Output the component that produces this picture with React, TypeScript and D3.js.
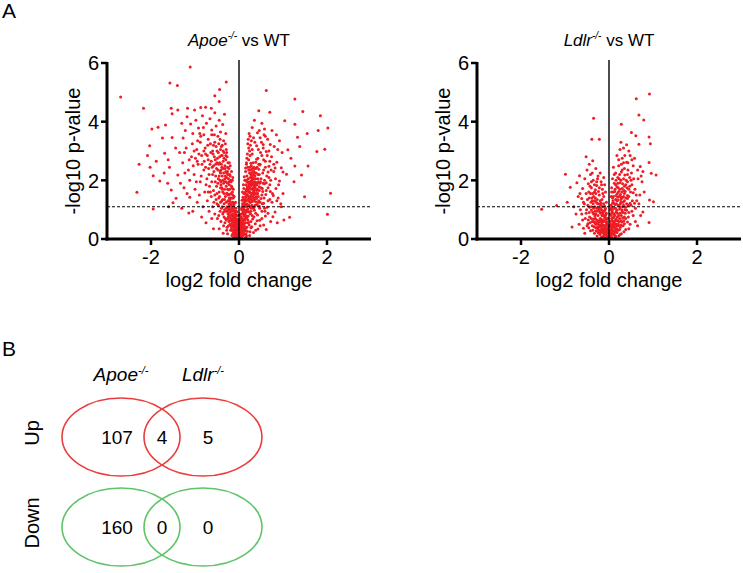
import React from "react";
import * as d3 from "d3";

// volcano points: [log2 fold change, -log10 p-value]
const apoePoints: [number, number][] = [
  [-2.69,4.84],[-2.17,4.46],[-1.11,5.86],[-1.57,5.32],[-1.40,5.23],[-0.29,5.35],[-0.44,5.10],[-0.55,4.88],[-0.45,4.69],[-1.54,4.46],
  [-1.52,4.27],[-1.39,4.40],[-1.17,4.46],[-1.01,4.40],[-0.87,4.48],[-0.76,4.49],[-0.63,4.46],[-1.98,3.75],[-1.84,3.81],[-1.67,3.89],
  [-1.74,3.44],[-2.03,3.18],[-1.52,3.46],[-1.27,3.44],[-1.18,4.17],[-2.27,2.55],[-2.02,2.45],[-1.95,2.16],[-1.80,1.98],[-2.32,1.59],
  [-1.95,1.02],[-1.61,2.70],[-1.69,2.92],[-1.54,1.67],[-1.50,1.24],[-1.43,1.39],[-1.14,0.89],[-1.12,1.42],[-1.39,2.18],
  [-1.30,3.95],[-1.22,3.70],[-1.10,3.92],[-1.05,3.60],[-0.98,4.05],[-0.92,3.78],[-0.88,3.30],[-0.83,4.20],[-0.80,3.55],[-0.74,3.95],
  [-0.70,3.40],[-0.66,4.10],[-0.62,3.72],[-0.58,3.20],[-0.55,4.30],[-0.52,3.85],[-0.48,3.50],[-0.45,4.05],[-0.42,3.65],[-0.40,3.15],
  [-0.37,3.90],[-0.35,3.35],[-0.33,4.25],[-0.30,3.60],[-0.28,2.95],
  [-1.35,2.95],[-1.28,2.60],[-1.20,3.10],[-1.15,2.35],[-1.08,2.80],[-1.02,2.20],[-0.96,3.05],[-0.93,2.55],[-0.88,1.95],[-0.85,2.85],
  [-0.80,2.35],[-0.77,3.10],[-0.73,2.05],[-0.70,2.70],[-0.67,1.80],[-0.64,2.95],[-0.61,2.45],[-0.58,1.65],[-0.56,2.80],[-0.53,2.15],
  [-0.50,3.00],[-0.48,1.90],[-0.46,2.55],[-0.44,1.45],[-0.42,2.25],[-0.40,2.85],[-0.38,1.70],[-0.36,2.40],[-0.34,1.20],[-0.32,2.05],
  [-0.30,2.70],[-0.28,1.55],[-0.26,2.30],[-0.24,1.00],[-0.22,1.85],[-0.20,2.50],[-0.18,0.80],[-0.16,1.40],[-0.14,2.10],[-0.12,0.55],
  [-1.25,1.75],[-1.18,1.55],[-1.00,1.70],[-0.95,1.25],[-0.90,1.50],[-0.82,1.10],[-0.78,1.60],[-0.72,1.30],[-0.68,0.95],[-0.63,1.45],
  [-0.60,1.10],[-0.55,0.85],[-0.52,1.35],[-0.49,0.70],[-0.47,1.15],[-0.43,0.95],[-0.41,0.60],[-0.39,1.30],[-0.37,0.85],[-0.35,0.45],
  [-0.33,1.00],[-0.31,0.70],[-0.29,1.25],[-0.27,0.40],[-0.25,0.85],[-0.23,0.60],[-0.21,1.15],[-0.19,0.30],[-0.17,0.95],[-0.15,0.45],
  [-0.13,0.20],[-0.11,0.75],[-0.10,0.35],[-0.08,0.15],[-0.07,0.50],[-0.05,0.25],[-0.04,0.08],[-0.03,0.40],[-0.02,0.12],[-0.06,0.05],
  [-0.09,0.62],[-0.12,0.95],[-0.14,1.25],[-0.16,0.65],[-0.18,1.55],[-0.20,0.50],[-0.22,1.40],[-0.24,0.75],[-0.26,1.70],[-0.28,0.95],
  [-0.30,1.95],[-0.32,0.55],[-0.34,1.55],[-0.36,0.90],[-0.38,2.15],[-0.40,1.05],[-0.42,1.75],[-0.44,2.60],[-0.46,0.80],[-0.50,1.55],
  [-0.54,1.95],[-0.57,1.25],[-0.60,2.20],[-0.65,1.60],[-0.69,2.40],[-0.75,1.85],[-0.79,2.65],[-0.86,2.15],[-0.91,2.90],[-0.97,1.95],
  [-1.04,2.50],[-1.12,2.00],[-1.23,2.25],[-1.33,1.90],
  [-0.01,0.05],[-0.03,0.22],[-0.05,0.45],[-0.07,0.30],[-0.09,0.18],[-0.11,0.48],[-0.13,0.62],[-0.15,0.85],[-0.17,0.38],[-0.19,0.72],
  [-0.21,0.90],[-0.23,1.05],[-0.25,1.30],[-0.27,1.10],[-0.29,0.65],[-0.31,1.45],[-0.33,1.70],[-0.35,1.90],[-0.37,1.35],[-0.39,2.45],
  [-0.41,1.95],[-0.43,2.30],[-0.45,1.60],[-0.47,2.05],[-0.49,2.75],[-0.51,1.80],[-0.53,2.55],[-0.55,3.30],[-0.57,2.30],[-0.59,2.90],
  [-0.62,3.55],[-0.66,2.55],[-0.71,3.20],[-0.76,2.90],[-0.81,3.80],[-0.87,3.50],[-0.94,3.35],[-0.99,2.75],[-1.06,3.25],[-1.13,2.70],
  [-1.24,2.95],[-1.44,3.10],[-1.58,2.45],[-1.62,1.90],[-1.70,2.25],[-1.88,2.65],[-2.08,2.85],
  [-1.60,1.10],[-1.30,1.05],[-1.05,0.95],[-0.85,0.75],[-0.75,0.55],[-0.62,0.70],[-0.58,0.35],[-0.45,0.35],[-0.36,0.20],[-0.26,0.18],
  [-0.16,0.12],[-0.10,0.05],
  [0.62,5.06],[1.27,4.77],[1.45,4.35],[1.85,4.20],[2.02,3.78],[1.80,3.70],[1.33,3.47],[1.27,3.91],[1.04,4.03],[0.70,4.32],
  [0.45,4.37],[1.95,3.06],[1.77,2.98],[1.57,2.49],[1.27,2.49],[1.42,2.18],[1.49,1.44],[2.08,1.56],[2.01,0.84],[1.15,0.74],
  [1.02,0.65],[1.08,2.21],[1.11,3.04],[0.96,2.43],[0.89,1.40],[0.77,0.76],
  [0.35,4.05],[0.52,3.95],[0.30,3.80],[0.58,3.75],[0.42,3.62],[0.75,3.70],[0.85,3.55],[0.25,3.50],[0.48,3.45],[0.65,3.40],
  [0.92,3.35],[0.36,3.30],[0.55,3.22],[0.80,3.15],[0.22,3.10],[0.44,3.05],[0.68,3.00],[0.98,2.95],[0.30,2.90],[0.52,2.85],
  [0.74,2.80],[0.18,2.75],[0.40,2.72],[0.60,2.65],[0.86,2.62],[0.27,2.58],[0.47,2.52],[0.68,2.48],[0.15,2.42],[0.35,2.40],
  [0.56,2.35],[0.79,2.30],[1.00,2.28],[0.24,2.25],[0.43,2.20],[0.63,2.15],[0.12,2.12],[0.31,2.08],[0.50,2.05],[0.72,2.00],
  [0.92,1.98],[0.20,1.95],[0.39,1.92],[0.58,1.88],[0.10,1.85],[0.28,1.82],[0.46,1.78],[0.66,1.75],[0.84,1.72],[0.17,1.70],
  [0.35,1.68],[0.54,1.62],[0.08,1.60],[0.25,1.58],[0.42,1.55],[0.61,1.52],[0.78,1.48],[0.15,1.45],[0.32,1.42],[0.50,1.38],
  [0.70,1.35],[0.07,1.32],[0.22,1.30],[0.38,1.27],[0.56,1.22],[0.95,1.20],[0.13,1.18],[0.29,1.15],[0.46,1.12],[0.64,1.08],
  [0.06,1.05],[0.20,1.02],[0.35,0.98],[0.52,0.95],[0.82,0.92],[0.11,0.90],[0.26,0.86],[0.42,0.82],[0.60,0.78],[0.05,0.75],
  [0.17,0.72],[0.31,0.68],[0.47,0.64],[0.09,0.60],[0.22,0.56],[0.37,0.52],[0.56,0.48],[0.04,0.45],[0.14,0.42],[0.27,0.38],
  [0.43,0.34],[0.08,0.30],[0.19,0.26],[0.33,0.22],[0.03,0.18],[0.12,0.15],[0.24,0.12],[0.06,0.08],[0.15,0.05],[0.02,0.03],
  [0.21,1.62],[0.27,1.48],[0.33,1.75],[0.24,1.88],[0.31,1.58],[0.37,1.85],[0.29,2.00],[0.26,1.72],[0.34,1.52],[0.40,1.65],
  [0.19,1.52],[0.23,1.38],[0.30,1.28],[0.36,1.40],[0.44,1.45],[0.18,1.20],[0.26,1.08],[0.33,1.05],[0.41,1.18],[0.48,1.25],
  [0.16,0.98],[0.23,0.92],[0.30,0.80],[0.38,0.88],[0.12,0.78],[0.20,0.66],[0.27,0.60],[0.14,0.55],[0.10,0.45],[0.18,0.40],
  [0.07,0.38],[0.11,0.25],[0.05,0.22],[0.09,0.12],[0.16,0.18],[0.04,0.55],[0.10,0.68],[0.13,0.88],[0.09,1.12],[0.14,1.35],
  [0.11,1.55],[0.19,1.78],[0.16,2.00],[0.22,2.35],[0.28,2.50],[0.38,2.62],[0.33,2.20],[0.45,2.38],[0.49,1.95],[0.53,1.72],
  [0.57,1.40],[0.62,1.92],[0.66,2.28],[0.71,1.62],[0.75,1.25],[0.58,1.05],[0.66,0.88],[0.72,0.60],[0.52,0.70],[0.48,0.45],
  [0.38,0.30],[0.29,0.42],[0.41,0.62],[0.34,0.75],[0.25,0.25],[0.70,2.65],[0.62,2.98],[0.55,3.10],[0.40,3.18],[0.33,3.45],
  [0.46,3.70],[0.60,3.50],[0.71,3.22],[0.88,3.05],[0.82,2.42],[0.90,1.85],[1.00,1.55],[0.96,1.10],[0.87,0.55],[0.62,0.32],
  [1.25,1.95],[1.18,2.75],[1.38,3.15],[1.55,3.60],[0.20,3.25],[0.17,2.55],
];

// the dense V-shaped core near zero fold change
const apoeCore: [number, number][] = [
  [-0.02,0.20],[-0.04,0.30],[-0.06,0.15],[-0.08,0.42],[-0.03,0.55],[-0.10,0.25],[-0.12,0.40],[-0.05,0.68],[-0.07,0.82],[-0.14,0.70],
  [-0.09,0.95],[-0.16,1.05],[-0.11,1.20],[-0.18,1.12],[-0.13,1.40],[-0.20,1.28],[-0.15,1.60],[-0.22,1.52],[-0.17,1.80],[-0.24,1.68],
  [-0.19,2.00],[-0.26,1.90],[-0.21,2.20],[-0.28,2.10],[-0.23,2.40],[-0.30,2.30],[-0.25,2.60],[-0.32,2.50],[-0.27,2.80],[-0.34,2.75],
  [-0.29,3.05],[-0.36,3.00],[-0.31,3.25],[-0.38,3.20],[-0.43,3.40],[-0.47,2.95],[-0.51,2.40],[-0.45,2.15],[-0.41,1.85],[-0.37,1.60],
  [-0.33,1.35],[-0.29,1.05],[-0.25,0.95],[-0.21,0.65],[-0.17,0.50],[-0.13,0.30],[-0.01,0.35],[-0.02,0.48],[-0.04,0.62],[-0.06,0.78],
  [-0.08,0.90],[-0.10,1.05],[-0.12,1.15],[-0.14,1.50],[-0.16,1.75],[-0.18,1.95],[-0.20,2.15],[-0.22,2.60],[-0.24,2.05],[-0.26,2.45],
  [-0.28,2.25],[-0.30,2.85],[-0.32,2.40],[-0.34,2.95],[-0.36,2.65],[-0.38,2.85],[-0.40,2.55],[-0.42,3.05],[-0.44,2.80],[-0.46,3.25],
  [-0.48,2.35],[-0.50,2.60],[-0.52,3.15],[-0.54,2.70],[-0.56,3.55],[-0.58,2.50],[-0.60,3.00],[-0.63,2.65],[-0.65,3.25],[-0.68,2.20],
  [-0.72,2.85],[-0.76,2.45],[-0.80,3.00],[-0.84,2.55],[-0.89,3.60],[-0.95,2.65],[-1.02,3.00],[-0.06,0.95],[-0.08,1.25],[-0.11,1.45],
  [-0.13,1.70],[-0.15,2.00],[-0.17,2.30],[-0.19,1.40],[-0.21,1.70],[-0.23,1.95],[-0.25,2.20],[-0.27,1.55],[-0.29,1.80],[-0.31,2.15],
  [-0.33,1.95],[-0.35,2.25],[-0.37,2.00],[-0.39,1.75],[-0.41,2.35],[-0.43,2.00],[-0.12,0.05],[-0.14,0.18],[-0.16,0.30],[-0.18,0.45],
  [-0.20,0.62],[-0.22,0.80],[-0.24,0.45],[-0.26,0.70],[-0.28,0.30],[-0.31,0.95],[-0.34,0.75],[-0.38,1.10],[-0.42,1.25],[-0.46,1.40],
  [-0.50,1.20],[-0.55,1.50],[-0.62,1.95],[-0.70,1.60],
  [0.02,0.15],[0.04,0.28],[0.06,0.40],[0.03,0.52],[0.08,0.62],[0.05,0.85],[0.10,0.95],[0.07,1.10],[0.12,1.25],[0.09,1.42],
  [0.14,1.55],[0.11,1.72],[0.16,1.85],[0.13,2.00],[0.18,2.15],[0.15,2.30],[0.20,2.45],[0.17,2.60],[0.22,2.70],[0.19,2.90],
  [0.24,3.00],[0.21,3.40],[0.26,3.20],[0.23,3.60],[0.28,3.35],[0.25,2.85],[0.30,3.05],[0.27,2.35],[0.32,2.60],[0.29,2.15],
  [0.34,2.45],[0.31,1.95],[0.36,2.25],[0.33,1.65],[0.38,2.05],[0.35,1.35],[0.40,1.90],[0.37,1.15],[0.42,1.70],[0.39,1.45],
  [0.44,1.95],[0.41,2.45],[0.46,2.20],[0.43,2.75],[0.48,2.55],[0.45,1.30],[0.50,1.75],[0.47,1.05],[0.52,1.50],[0.49,2.95],
  [0.54,2.25],[0.51,3.30],[0.56,2.70],[0.53,1.20],[0.58,2.00],[0.55,1.90],[0.60,2.45],[0.57,3.55],[0.62,1.65],[0.59,0.95],
  [0.64,2.85],[0.66,1.30],[0.68,2.10],[0.70,1.85],[0.73,2.35],[0.76,1.55],[0.79,2.55],[0.83,2.05],[0.86,1.30],[0.04,0.70],
  [0.06,1.00],[0.08,1.20],[0.10,1.35],[0.12,1.00],[0.14,1.15],[0.16,1.30],[0.18,1.50],[0.20,1.70],[0.22,1.80],[0.24,1.60],
  [0.26,1.95],[0.28,1.70],[0.30,1.45],[0.32,1.85],[0.34,1.60],[0.36,1.80],[0.38,1.55],[0.40,1.38],[0.42,1.55],[0.44,1.25],
  [0.46,1.65],[0.20,1.15],[0.22,1.45],[0.24,1.75],[0.26,2.10],[0.28,2.25],[0.30,2.40],[0.32,2.05],[0.34,2.30],[0.36,1.95],
  [0.38,2.40],[0.25,1.25],[0.27,0.95],[0.29,1.35],[0.31,1.10],[0.33,1.30],[0.35,1.10],[0.07,0.20],[0.09,0.35],[0.11,0.50],
  [0.13,0.65],[0.15,0.80],[0.17,0.92],[0.19,0.55],[0.21,0.78],[0.23,0.48],[0.13,0.28],[0.17,0.10],[0.05,0.10],[0.03,0.35],
  [0.01,0.10],
];

// solid blob at the base of the V and the busy right arm
const apoeBase: [number, number][] = [
  [-0.01,0.15],[-0.02,0.28],[-0.03,0.10],[-0.04,0.45],[-0.05,0.35],[-0.06,0.58],[-0.07,0.22],[-0.08,0.70],[-0.09,0.48],[-0.10,0.85],
  [-0.11,0.62],[-0.12,0.30],[-0.13,0.78],[-0.14,1.00],[-0.15,0.58],[-0.17,1.20],[-0.19,0.98],[-0.21,1.35],[-0.23,1.20],[-0.25,1.50],
  [-0.02,0.65],[-0.03,0.80],[-0.05,0.92],[-0.07,1.05],[-0.09,0.78],[-0.04,0.18],[-0.06,0.38],[-0.08,0.55],[-0.10,0.12],[-0.12,0.68],
  [0.01,0.20],[0.02,0.38],[0.03,0.62],[0.04,0.12],[0.05,0.48],[0.06,0.72],[0.07,0.30],[0.08,0.88],[0.09,0.52],[0.10,1.05],
  [0.11,0.82],[0.12,1.35],[0.13,1.12],[0.14,0.70],[0.15,1.62],[0.16,1.42],[0.17,1.10],[0.18,1.95],[0.19,1.65],[0.20,1.35],
  [0.21,2.05],[0.22,1.88],[0.23,1.62],[0.24,2.45],[0.25,1.95],[0.26,1.42],[0.27,2.20],[0.28,1.88],[0.29,1.55],[0.30,2.10],
  [0.31,1.72],[0.32,2.30],[0.33,1.90],[0.34,2.05],[0.35,1.55],[0.36,2.15],[0.37,1.75],[0.39,2.25],[0.41,1.85],[0.43,2.05],
  [0.45,2.55],[0.47,1.90],[0.18,0.75],[0.20,0.95],[0.22,1.15],[0.24,1.35],[0.26,1.25],[0.28,1.05],[0.15,0.35],[0.11,0.35],
  [0.07,0.52],[0.02,0.82],[0.05,0.30],[0.09,0.22],
];

const ldlrPoints: [number, number][] = [
  [-0.35,4.12],[-0.39,3.40],[-0.22,3.40],[-0.52,2.80],[-0.37,2.67],[-0.99,2.21],[-0.88,1.76],[-1.53,1.01],[-0.95,1.25],[-1.19,1.14],
  [-0.84,0.41],[-0.58,0.37],[-0.67,2.16],[0.28,3.91],[0.51,3.63],[0.68,4.23],[0.79,4.06],[0.62,4.78],[0.92,4.94],[0.91,3.48],
  [0.94,3.25],[0.40,3.21],[0.68,3.23],[0.27,3.30],[0.61,3.52],[0.71,2.47],[0.77,2.30],[0.96,2.24],[0.91,2.61],[1.01,1.27],
  [0.91,0.56],[0.77,0.92],[0.58,1.22],[1.07,2.18],[0.92,1.33],
  [-0.50,2.35],[-0.42,2.20],[-0.30,2.40],[-0.55,2.05],[-0.36,2.00],[-0.25,2.15],[-0.47,1.88],[-0.18,1.95],[-0.60,1.72],[-0.40,1.75],
  [-0.28,1.82],[-0.15,1.70],[-0.52,1.55],[-0.33,1.60],[-0.22,1.50],[-0.70,1.45],[-0.45,1.40],[-0.12,1.45],[-0.38,1.30],[-0.27,1.35],
  [-0.58,1.25],[-0.18,1.22],[-0.48,1.15],[-0.32,1.10],[-0.10,1.12],[-0.65,1.00],[-0.40,0.98],[-0.23,1.00],[-0.52,0.88],[-0.30,0.85],
  [-0.15,0.90],[-0.08,0.80],[-0.44,0.75],[-0.35,0.68],[-0.20,0.70],[-0.60,0.65],[-0.26,0.58],[-0.12,0.60],[-0.48,0.52],[-0.38,0.45],
  [-0.18,0.48],[-0.06,0.50],[-0.30,0.38],[-0.23,0.30],[-0.14,0.35],[-0.08,0.28],[-0.42,0.28],[-0.33,0.20],[-0.20,0.15],[-0.11,0.18],
  [-0.05,0.12],[-0.27,0.10],[-0.15,0.07],[-0.03,0.05],[-0.09,0.40],[-0.17,0.62],[-0.25,0.80],[-0.13,0.95],[-0.28,1.05],[-0.36,1.20],
  [-0.20,1.30],[-0.42,1.55],[-0.31,1.68],[-0.24,1.62],[-0.16,1.35],[-0.44,1.08],[-0.54,0.70],[-0.37,0.90],[-0.07,0.68],[-0.04,0.35],
  [-0.22,0.42],[-0.32,0.55],[-0.46,0.38],[-0.55,0.20],[-0.68,0.50],[-0.75,0.85],[-0.80,1.10],[-0.62,1.38],[-0.73,1.92],[-0.35,1.45],
  [-0.28,1.95],[-0.45,2.55],[-0.20,2.25],[-0.10,1.85],[-0.08,1.05],[-0.19,0.88],
  [0.10,2.45],[0.22,2.50],[0.35,2.40],[0.15,2.25],[0.28,2.28],[0.42,2.20],[0.08,2.05],[0.20,2.10],[0.33,2.05],[0.50,2.00],
  [0.12,1.90],[0.25,1.92],[0.38,1.85],[0.06,1.75],[0.18,1.78],[0.30,1.72],[0.45,1.70],[0.10,1.60],[0.22,1.62],[0.35,1.55],
  [0.55,1.58],[0.05,1.45],[0.16,1.48],[0.28,1.42],[0.42,1.38],[0.09,1.30],[0.20,1.32],[0.32,1.25],[0.48,1.22],[0.04,1.15],
  [0.14,1.18],[0.25,1.10],[0.38,1.08],[0.60,1.05],[0.08,1.00],[0.18,0.98],[0.30,0.92],[0.45,0.90],[0.03,0.85],[0.12,0.85],
  [0.22,0.80],[0.35,0.75],[0.06,0.70],[0.16,0.68],[0.27,0.62],[0.42,0.58],[0.10,0.55],[0.20,0.50],[0.32,0.45],[0.04,0.42],
  [0.14,0.38],[0.24,0.32],[0.08,0.28],[0.18,0.22],[0.03,0.18],[0.11,0.14],[0.22,0.10],[0.06,0.06],[0.14,0.04],[0.02,0.30],
  [0.09,0.48],[0.13,0.62],[0.19,0.88],[0.24,1.02],[0.27,1.25],[0.26,1.52],[0.31,1.88],[0.36,2.18],[0.40,2.62],[0.30,2.75],
  [0.48,2.85],[0.55,2.50],[0.18,2.85],[0.25,3.05],[0.45,3.00],[0.58,2.75],[0.65,2.35],[0.52,1.85],[0.62,1.50],[0.50,1.15],
  [0.55,0.80],[0.48,0.50],[0.38,0.32],[0.28,0.18],[0.68,1.20],[0.72,0.80],[0.65,0.45],[0.80,1.60],[0.75,1.95],[0.42,1.48],
  [0.35,1.30],[0.15,1.05],[0.07,0.92],[0.11,0.75],[0.40,0.98],[0.20,1.42],
];

const ldlrCore: [number, number][] = [
  [-0.02,0.15],[-0.04,0.25],[-0.06,0.18],[-0.08,0.35],[-0.10,0.22],[-0.12,0.45],[-0.14,0.28],[-0.16,0.55],[-0.18,0.32],[-0.20,0.58],
  [-0.22,0.20],[-0.24,0.50],[-0.26,0.40],[-0.28,0.65],[-0.30,0.50],[-0.32,0.78],[-0.34,0.42],[-0.36,0.60],[-0.40,0.70],[-0.43,0.55],
  [-0.03,0.45],[-0.05,0.60],[-0.07,0.85],[-0.09,0.72],[-0.11,0.95],[-0.13,0.80],[-0.15,1.10],[-0.17,1.00],[-0.19,1.15],[-0.21,0.92],
  [-0.23,1.20],[-0.25,1.05],[-0.27,0.95],[-0.29,1.25],[-0.31,1.40],[-0.33,1.30],[-0.35,1.05],[-0.37,1.55],[-0.39,1.40],[-0.41,1.25],
  [-0.43,1.80],[-0.46,1.60],[-0.49,1.35],[-0.51,1.00],[-0.56,1.20],[-0.14,1.55],[-0.17,1.85],[-0.22,1.75],[-0.26,2.05],[-0.30,1.55],
  [-0.33,1.85],[-0.38,2.25],[-0.40,1.95],[-0.12,2.10],[-0.08,1.60],[-0.06,1.25],[-0.02,0.70],[-0.01,0.30],[-0.10,0.05],[-0.18,0.05],
  [-0.25,0.22],[-0.37,0.30],[-0.50,0.45],[-0.62,0.85],[-0.66,1.55],
  [0.02,0.12],[0.04,0.22],[0.06,0.35],[0.08,0.18],[0.10,0.30],[0.12,0.45],[0.14,0.25],[0.16,0.50],[0.18,0.35],[0.20,0.62],
  [0.22,0.45],[0.24,0.70],[0.26,0.40],[0.28,0.80],[0.30,0.58],[0.32,0.90],[0.34,0.62],[0.36,1.00],[0.38,0.70],[0.40,1.20],
  [0.03,0.60],[0.05,0.80],[0.07,1.10],[0.09,0.88],[0.11,1.22],[0.13,1.05],[0.15,1.35],[0.17,1.20],[0.19,1.55],[0.21,1.15],
  [0.23,1.45],[0.25,1.70],[0.27,1.35],[0.29,1.60],[0.31,1.10],[0.33,1.45],[0.35,1.80],[0.37,1.62],[0.39,2.00],[0.41,1.75],
  [0.43,2.35],[0.45,1.45],[0.47,2.10],[0.49,1.60],[0.51,2.25],[0.53,1.30],[0.56,2.05],[0.59,1.70],[0.12,2.20],[0.14,1.70],
  [0.16,2.00],[0.20,1.90],[0.24,2.20],[0.27,2.00],[0.30,2.35],[0.33,2.60],[0.36,2.85],[0.22,2.70],[0.28,2.55],[0.33,3.10],
  [0.43,2.60],[0.52,2.70],[0.08,1.40],[0.06,1.60],[0.04,1.00],[0.01,0.45],[0.15,0.10],[0.25,0.15],[0.34,0.25],[0.45,0.35],
  [0.44,0.75],[0.52,0.95],[0.60,0.60],[0.63,1.30],[0.70,1.50],[0.66,2.05],[0.73,2.15],
];

const ldlrBase: [number, number][] = [
  [-0.01,0.12],[-0.02,0.25],[-0.03,0.38],[-0.04,0.08],[-0.05,0.52],[-0.06,0.30],[-0.07,0.15],[-0.08,0.60],[-0.09,0.45],[-0.10,0.75],
  [-0.11,0.32],[-0.12,0.12],[-0.13,0.65],[-0.14,0.48],[-0.15,0.22],[-0.16,0.80],[-0.17,0.40],[-0.18,0.68],[-0.19,0.25],[-0.21,0.45],
  [-0.23,0.62],[-0.25,0.35],[-0.27,0.52],[-0.29,0.28],[-0.31,0.70],[-0.33,0.58],[-0.35,0.85],[-0.04,0.70],[-0.06,0.88],[-0.09,1.00],
  [-0.12,1.20],[-0.14,0.85],[-0.20,1.05],[-0.26,1.20],[-0.32,0.95],[-0.40,1.10],[-0.45,0.90],[-0.38,0.60],[-0.47,0.65],
  [0.01,0.20],[0.02,0.08],[0.03,0.30],[0.04,0.50],[0.05,0.15],[0.06,0.42],[0.07,0.62],[0.08,0.25],[0.09,0.72],[0.10,0.40],
  [0.11,0.58],[0.12,0.18],[0.13,0.80],[0.14,0.52],[0.15,0.30],[0.16,0.92],[0.17,0.62],[0.18,0.45],[0.19,0.75],[0.21,0.30],
  [0.23,0.58],[0.25,0.88],[0.27,0.48],[0.29,1.00],[0.31,0.72],[0.33,1.15],[0.35,0.52],[0.37,0.88],[0.05,1.05],[0.08,1.22],
  [0.10,1.45],[0.13,1.62],[0.15,1.85],[0.18,1.30],[0.21,1.75],[0.23,2.05],[0.26,1.20],[0.30,1.40],[0.34,1.65],[0.38,1.40],
  [0.44,1.15],[0.42,1.95],[0.47,1.80],
];

const xTicks = [-2, 0, 2];
const yTicks = [0, 2, 4, 6];
const cutoff = 1.1;

// Venn counts: [only first, overlap, only second]
const vennRows = ["Up", "Down"];
const vennCounts = [
  [107, 4, 5],
  [160, 0, 0],
];
const vennColors = ["#ec3c3c", "#5ec468"];
const vennSets = ["Apoe", "Ldlr"];

const FONT = "'Liberation Sans', Arial, sans-serif";
const RED = "#ee1c25";

const Volcano = ({ left, points, gene }: { left: number; points: [number, number][]; gene: string }) => {
  const x = d3.scaleLinear().domain([-3, 3]).range([left, left + 264]);
  const y = d3.scaleLinear().domain([0, 6]).range([239, 63]);
  return (
    <g fontFamily={FONT}>
      <text x={x(0)} y={46} textAnchor="middle" fontSize={17}>
        <tspan fontStyle="italic">{gene}</tspan>
        <tspan fontStyle="italic" fontSize={10} dy={-7}>-/-</tspan>
        <tspan dy={7}> vs WT</tspan>
      </text>
      {points.map(([a, b], i) => (
        <circle key={i} cx={x(a)} cy={y(b)} r={1.5} fill={RED} />
      ))}
      <line x1={x(0)} x2={x(0)} y1={60} y2={y(0)} stroke="#000" strokeWidth={1.4} />
      <line x1={x(-3)} x2={x(3)} y1={y(cutoff)} y2={y(cutoff)} stroke="#000" strokeWidth={1.1} strokeDasharray="3,2" />
      <line x1={x(-3)} x2={x(-3)} y1={y(6) - 1} y2={y(0) + 1.5} stroke="#000" strokeWidth={3} />
      <line x1={x(-3) - 1.5} x2={x(3)} y1={y(0)} y2={y(0)} stroke="#000" strokeWidth={3} />
      {yTicks.map((t) => (
        <g key={t}>
          <line x1={x(-3) - 6} x2={x(-3)} y1={y(t)} y2={y(t)} stroke="#000" strokeWidth={2.5} />
          <text x={x(-3) - 8} y={y(t)} dy="0.36em" textAnchor="end" fontSize={20}>{t}</text>
        </g>
      ))}
      {xTicks.map((t) => (
        <g key={t}>
          <line x1={x(t)} x2={x(t)} y1={y(0)} y2={y(0) + 6} stroke="#000" strokeWidth={2.5} />
          <text x={x(t)} y={264} textAnchor="middle" fontSize={20}>{t < 0 ? `-${Math.abs(t)}` : t}</text>
        </g>
      ))}
      <text x={x(0)} y={287} textAnchor="middle" fontSize={20}>log2 fold change</text>
      <text transform={`translate(${left - 27},${151}) rotate(-90)`} textAnchor="middle" fontSize={20}>-log10 p-value</text>
    </g>
  );
};

const Venn = () => {
  const cx = d3.scaleOrdinal<string, number>().domain(vennSets).range([121, 203]);
  const cy = d3.scaleBand().domain(vennRows).range([392, 572]);
  const numX = [117, 162, 208];
  return (
    <g fontFamily={FONT}>
      {vennSets.map((s) => (
        <text key={s} x={cx(s)} y={381} textAnchor="middle" fontSize={19} fontStyle="italic">
          {s}
          <tspan fontSize={11} dy={-7}>-/-</tspan>
        </text>
      ))}
      {vennRows.map((r, ri) => {
        const yc = (cy(r) as number) + cy.bandwidth() / 2;
        return (
          <g key={r}>
            <text transform={`translate(39,${yc - 4}) rotate(-90)`} textAnchor="middle" fontSize={20}>{r}</text>
            {vennSets.map((s) => (
              <ellipse key={s} cx={cx(s)} cy={yc} rx={59} ry={39} fill="none" stroke={vennColors[ri]} strokeWidth={1.6} />
            ))}
            {vennCounts[ri].map((n, i) => (
              <text key={i} x={numX[i]} y={yc} dy="0.36em" textAnchor="middle" fontSize={19}>{n}</text>
            ))}
          </g>
        );
      })}
    </g>
  );
};

export default function App() {
  return (
    <svg width={743} height={573} style={{ position: "absolute", left: 0, top: 0, background: "#fff" }}>
      <text x={2} y={18} fontFamily={FONT} fontSize={21}>A</text>
      <text x={2} y={356} fontFamily={FONT} fontSize={21}>B</text>
      <Volcano left={107} points={[...apoePoints, ...apoeCore, ...apoeBase]} gene="Apoe" />
      <Volcano left={477} points={[...ldlrPoints, ...ldlrCore, ...ldlrBase]} gene="Ldlr" />
      <Venn />
    </svg>
  );
}
